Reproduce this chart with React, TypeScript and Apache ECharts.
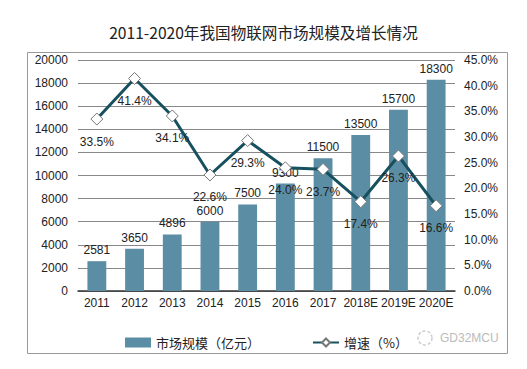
import React, { useEffect, useRef } from "react";
import * as echarts from "echarts";

const categories = ["2011", "2012", "2013", "2014", "2015", "2016", "2017", "2018E", "2019E", "2020E"];
const marketSize = [2581, 3650, 4896, 6000, 7500, 9300, 11500, 13500, 15700, 18300];
const growth = [33.5, 41.4, 34.1, 22.6, 29.3, 24.0, 23.7, 17.4, 26.3, 16.6];

export default function App() {
  const ref = useRef<HTMLDivElement>(null);
  useEffect(() => {
    document.body.style.margin = "0";
    const chart = echarts.init(ref.current!, undefined, { renderer: "svg" });
    const font = "'Liberation Sans', Arial, sans-serif";
    chart.setOption({
      animation: false,
      backgroundColor: "#ffffff",
      title: {
        text: "2011-2020年我国物联网市场规模及增长情况",
        left: "center",
        top: 19,
        textStyle: { fontFamily: "'Noto Sans CJK SC', sans-serif", fontWeight: "normal", fontSize: 15.6, color: "#222" },
      },
      graphic: [
        { type: "rect", shape: { x: 27.5, y: 52.5, width: 480, height: 301 }, style: { fill: "none", stroke: "#999", lineWidth: 1 }, silent: true },
        { type: "circle", shape: { cx: 425, cy: 338, r: 7 }, style: { fill: "none", stroke: "#ccc", lineWidth: 1.5, lineDash: [3, 2] } },
        { type: "text", x: 440, y: 338, style: { text: "GD32MCU", fill: "#bbb", font: "12px " + font, verticalAlign: "middle" } },
      ],
      legend: {
        left: 120,
        top: 331,
        itemGap: 52,
        itemWidth: 26,
        itemHeight: 10,
        textStyle: { fontFamily: "'Noto Sans CJK SC', sans-serif", fontSize: 13, color: "#222" },
        data: [
          { name: "市场规模（亿元）", icon: "rect" },
          { name: "增速（%）" },
        ],
      },
      grid: { left: 78, right: 72, top: 60, bottom: 78, containLabel: false },
      xAxis: {
        type: "category",
        data: categories,
        axisLine: { lineStyle: { color: "#333", width: 1.5 } },
        axisTick: { show: false },
        axisLabel: { color: "#222", fontSize: 12, fontFamily: font, margin: 6, interval: 0 },
      },
      yAxis: [
        {
          type: "value",
          min: 0,
          max: 20000,
          interval: 2000,
          axisLine: { show: false },
          axisTick: { show: false },
          splitLine: { lineStyle: { color: "#888", width: 1 } },
          axisLabel: { color: "#222", fontSize: 12, fontFamily: font, margin: 10, formatter: (v: number) => String(v) },
        },
        {
          type: "value",
          min: 0,
          max: 45,
          interval: 5,
          axisLine: { show: false },
          axisTick: { show: false },
          splitLine: { show: false },
          axisLabel: { color: "#222", fontSize: 12, fontFamily: font, margin: 9, formatter: (v: number) => v.toFixed(1) + "%" },
        },
      ],
      series: [
        {
          name: "市场规模（亿元）",
          type: "bar",
          data: marketSize,
          barWidth: "50%",
          itemStyle: { color: "#5b8ea5" },
          label: { show: true, position: "top", color: "#222", fontSize: 12, fontFamily: font, distance: 5 },
        },
        {
          name: "增速（%）",
          type: "line",
          yAxisIndex: 1,
          data: growth,
          symbol: "diamond",
          symbolSize: 12,
          lineStyle: { color: "#17505f", width: 3 },
          itemStyle: { color: "#ffffff", borderColor: "#777", borderWidth: 1 },
          label: { show: true, position: "bottom", distance: 10, color: "#222", fontSize: 12, fontFamily: font, formatter: (p: any) => p.value.toFixed(1) + "%" },
          z: 5,
        },
      ],
    });
    return () => chart.dispose();
  }, []);
  return <div ref={ref} style={{ width: 527, height: 369 }} />;
}
